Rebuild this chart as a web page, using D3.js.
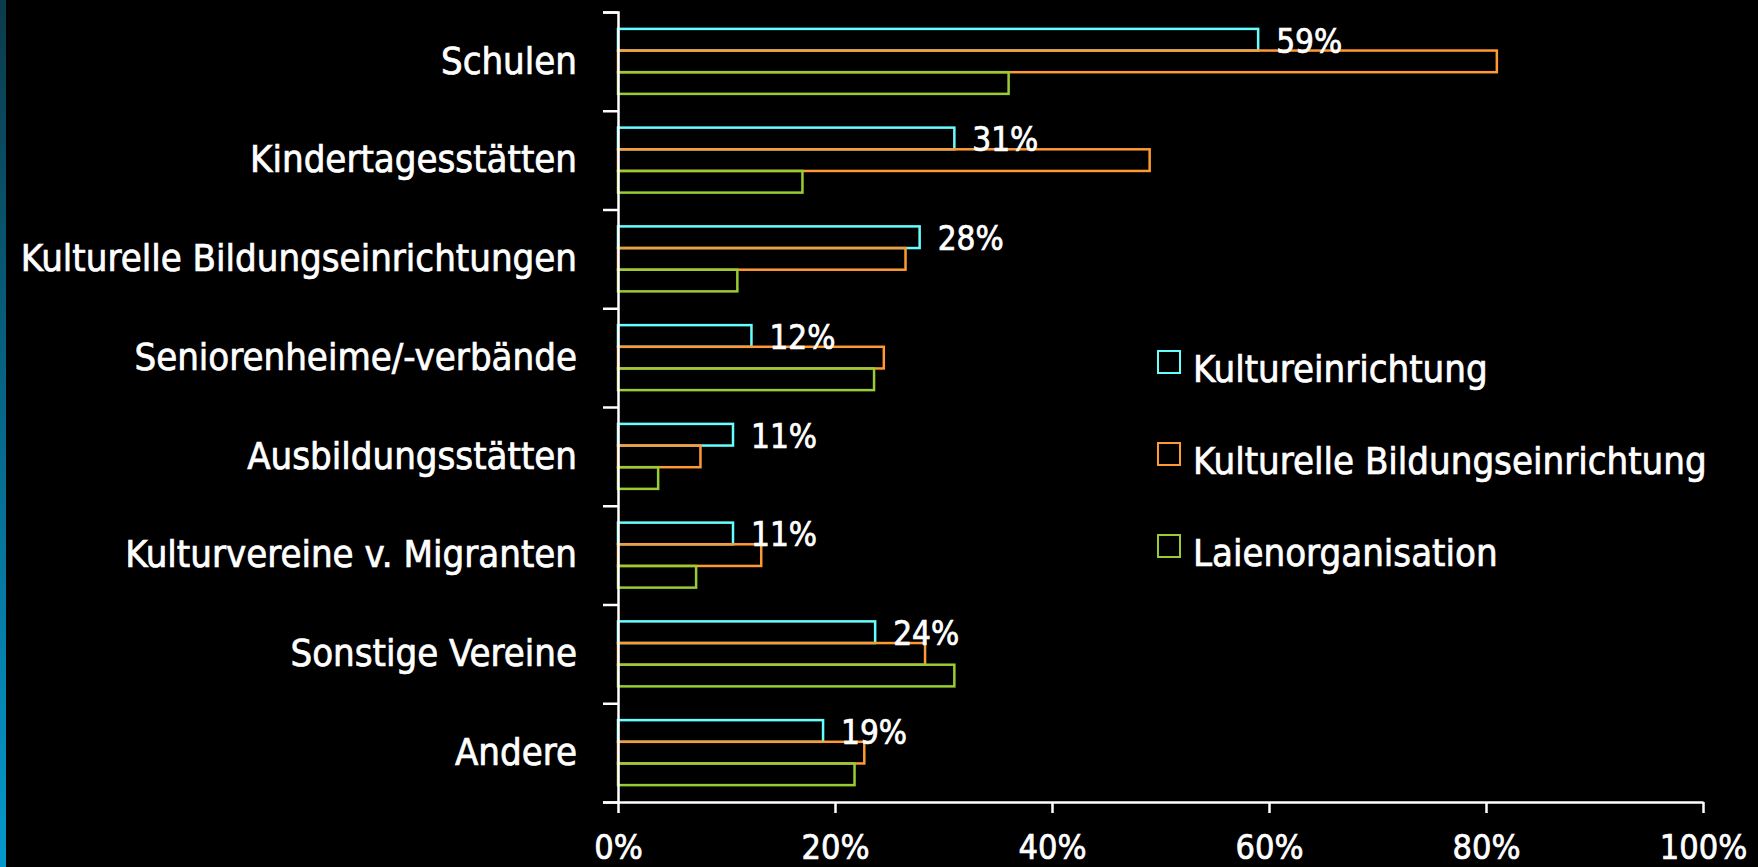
<!DOCTYPE html>
<html lang="de">
<head>
<meta charset="UTF-8">
<title>Kooperationspartner</title>
<script src="https://d3js.org/d3.v7.min.js"></script>
<style>
    body { margin: 0; background: #000; }
    svg { display: block; background: #000; }
    text {
        font-family: "DejaVu Sans Condensed", "DejaVu Sans", Verdana, sans-serif;
        font-stretch: condensed;
        fill: #fff;
        stroke: #fff;
        stroke-width: 0.7px;
    }
</style>
</head>
<body>
<svg width="1758" height="867"></svg>
<script>
    const categories = ["Schulen", "Kindertagesstätten", "Kulturelle Bildungseinrichtungen",
        "Seniorenheime/-verbände", "Ausbildungsstätten", "Kulturvereine  v. Migranten",
        "Sonstige Vereine", "Andere"];
    const seriesNames = ["Kultureinrichtung", "Kulturelle Bildungseinrichtung", "Laienorganisation"];
    const kultureinrichtung = [59, 31, 27.8, 12.3, 10.6, 10.6, 23.7, 18.9];
    const kulturelleBildung = [81, 49, 26.5, 24.5, 7.6, 13.2, 28.3, 22.7];
    const laienorganisation = [36, 17, 11, 23.6, 3.7, 7.2, 31, 21.8];
    const xTicks = [0, 20, 40, 60, 80, 100];
    const colors = ["#66ffff", "#ff9933", "#99cc33"];

    const values = [kultureinrichtung, kulturelleBildung, laienorganisation];

    const width = 1758, height = 867;
    const svg = d3.select("svg");

    // blauer Streifen am linken Rand
    const grad = svg.append("defs").append("linearGradient")
        .attr("id", "edge").attr("x1", 0).attr("y1", 0).attr("x2", 0).attr("y2", 1);
    grad.append("stop").attr("offset", "0%").attr("stop-color", "#0b3b4b");
    grad.append("stop").attr("offset", "50%").attr("stop-color", "#06698c");
    grad.append("stop").attr("offset", "100%").attr("stop-color", "#0499cd");
    svg.append("rect").attr("x", 0).attr("y", 0).attr("width", 6).attr("height", height)
        .attr("fill", "url(#edge)");

    const x = d3.scaleLinear().domain([0, 100]).range([618, 1703]);
    const y = d3.scaleBand().domain(categories).range([12, 802]).paddingInner(0.342).paddingOuter(0.171);
    const ySub = d3.scaleBand().domain(seriesNames).range([0, y.bandwidth()]);
    const yEdge = d3.scaleLinear().domain([0, categories.length]).range([12, 802]);

    // Balken (nur Umriss)
    const groups = svg.append("g").selectAll("g")
        .data(categories)
        .join("g")
        .attr("transform", d => `translate(0,${y(d)})`);

    groups.selectAll("rect")
        .data((c, i) => seriesNames.map((s, j) => ({ s, j, v: values[j][i] })))
        .join("rect")
        .attr("x", x(0))
        .attr("y", d => ySub(d.s))
        .attr("width", d => x(d.v) - x(0))
        .attr("height", ySub.bandwidth())
        .attr("fill", "none")
        .attr("stroke", d => colors[d.j])
        .attr("stroke-width", 2.5);

    // Achsen
    const yAxis = svg.append("g")
        .attr("transform", `translate(${x(0)},0)`)
        .call(d3.axisLeft(yEdge).tickValues(d3.range(categories.length + 1)).tickSize(15).tickFormat(""));

    const xAxis = svg.append("g")
        .attr("transform", `translate(0,${yEdge(categories.length)})`)
        .call(d3.axisBottom(x).tickValues(xTicks).tickSize(11).tickSizeOuter(0).tickFormat(d => d + "%"));

    [yAxis, xAxis].forEach(a => {
        a.selectAll("path, line").attr("stroke", "#fff").attr("stroke-width", 2.5);
    });
    xAxis.selectAll("text")
        .attr("y", 57).attr("dy", null)
        .attr("font-size", 34)
        .attr("fill", "#fff");

    const catAxis = svg.append("g")
        .attr("transform", `translate(${x(0)},0)`)
        .call(d3.axisLeft(y).tickSize(0).tickPadding(41));
    catAxis.select(".domain").remove();
    catAxis.selectAll("text")
        .attr("font-size", 38)
        .attr("fill", "#fff");

    // Werte der Kultureinrichtungen
    svg.append("g").selectAll("text")
        .data(categories)
        .join("text")
        .attr("x", (c, i) => x(kultureinrichtung[i]) + 18)
        .attr("y", c => y(c) + ySub(seriesNames[0]) + ySub.bandwidth() + 2)
        .attr("font-size", 33)
        .text((c, i) => Math.round(kultureinrichtung[i]) + "%");

    // Legende
    const legend = svg.append("g").selectAll("g")
        .data(seriesNames)
        .join("g")
        .attr("transform", (d, i) => `translate(1158,${351 + i * 92})`);
    legend.append("rect")
        .attr("width", 22).attr("height", 22)
        .attr("fill", "none")
        .attr("stroke", (d, i) => colors[i])
        .attr("stroke-width", 2);
    legend.append("text")
        .attr("x", 35).attr("y", 31)
        .attr("font-size", 38)
        .text(d => d);
</script>
</body>
</html>
